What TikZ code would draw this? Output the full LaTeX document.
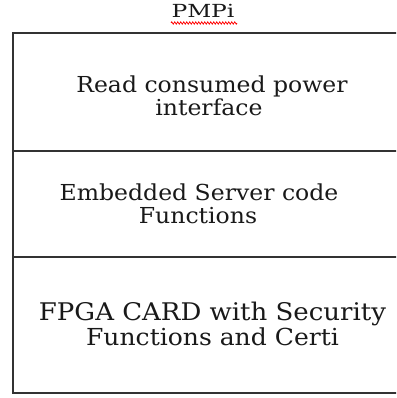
\documentclass[tikz,border=0pt]{standalone}
\usepackage{fontspec}
\setmainfont{DejaVu Serif}[FakeStretch=1.07]
\newfontfamily\titlefont{DejaVu Serif}[FakeStretch=1.3]
\usetikzlibrary{decorations.pathmorphing}
\begin{document}
\begin{tikzpicture}[x=1pt,y=1pt,
  lbl/.style={anchor=base,inner sep=0pt,font=\fontsize{22}{25}\selectfont,text=black!90},
  biglbl/.style={lbl,font=\fontsize{24.3}{28}\selectfont},
  frame/.style={draw=black!80,line width=2pt}]
\useasboundingbox (0,0) rectangle (396,-398);
\clip (0,0) rectangle (396,-398);
\node[anchor=base,inner sep=0pt,font=\titlefont\fontsize{18}{20}\selectfont,text=black!90] (title) at (203,-18) {PMPi};
\draw[red,line width=0.7pt,decorate,decoration={zigzag,segment length=3pt,amplitude=1.2pt}] (171,-23) -- (237,-23);
\draw[frame] (420,-33) -- (13,-33) -- (13,-393) -- (420,-393);
\draw[frame] (13,-151) -- (420,-151);
\draw[frame] (13,-257) -- (420,-257);
\node[lbl] (a1) at (212,-93) {Read consumed power};
\node[lbl] (a2) at (209,-116) {interface};
\node[lbl] (b1) at (199,-200) {Embedded Server code};
\node[lbl] (b2) at (198,-223) {Functions};
\node[biglbl] (c1) at (212.5,-320) {FPGA CARD with Security};
\node[lbl,font=\fontsize{23.4}{27}\selectfont] (c2) at (212.5,-345) {Functions and Certi};
\end{tikzpicture}
\end{document}
